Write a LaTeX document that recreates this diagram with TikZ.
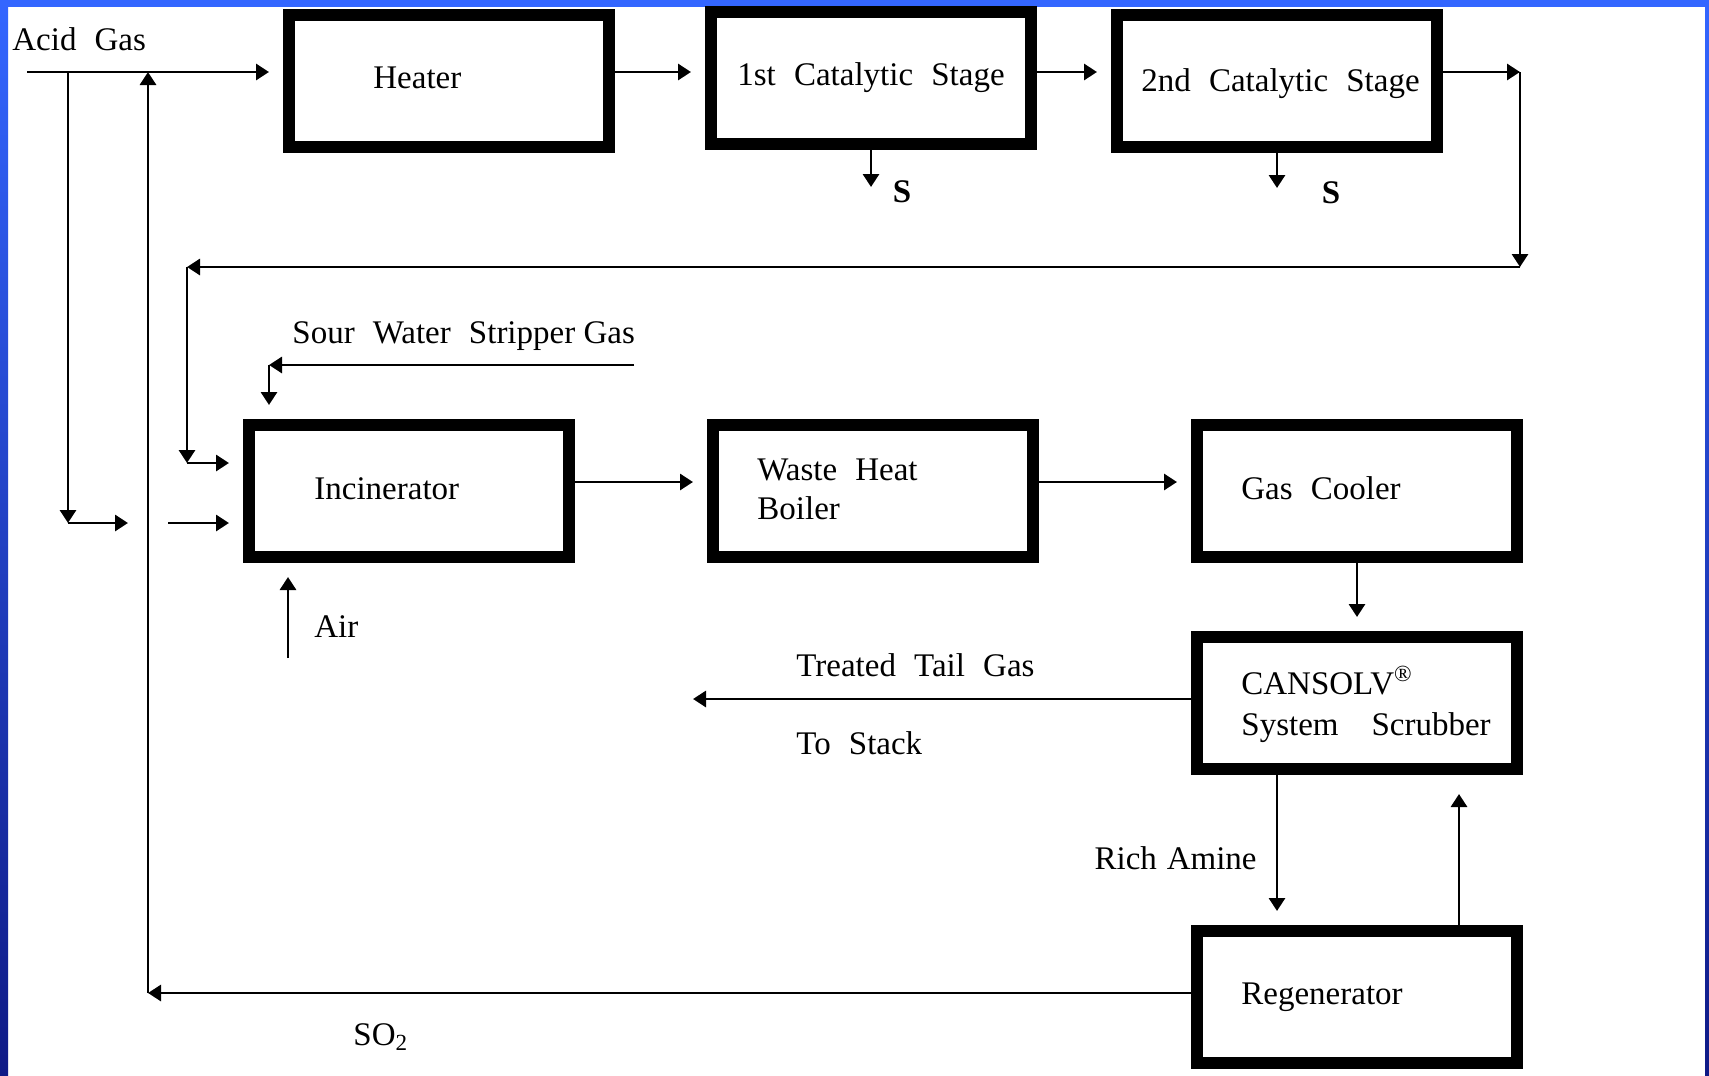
\documentclass[tikz,border=0pt]{standalone}
\usepackage{fontspec}
\setmainfont{Liberation Serif}[WordSpace=2.2]
\usetikzlibrary{arrows.meta}
\definecolor{slideblue}{HTML}{3366FF}
\definecolor{slidenavy}{HTML}{0F1A86}
\tikzset{
  unit/.style={draw, rectangle, line width=6pt, minimum width=160pt, minimum height=66pt},
  tag/.style={inner sep=0pt, anchor=base west},
  flow/.style={line width=1.45pt, -{Triangle[length=6.5pt,width=8pt]}},
  stopshort/.style={shorten >=7pt},
}
\begin{document}
\begin{tikzpicture}[x=0.5pt,y=-0.5pt,font=\fontsize{16.5}{20}\selectfont]
\useasboundingbox (0,0) rectangle (1709,1076);
\fill[white] (0,0) rectangle (1709,1076);
% slide frame
\shade[top color=slideblue, bottom color=slidenavy] (0,0) rectangle (8,1076);
\shade[top color=slideblue, bottom color=slidenavy] (1705,0) rectangle (1709,1076);
\fill[slideblue] (0,0) rectangle (1709,7);

% units
\node[unit] (heater) at (449,81) {};
\node[unit] (cat1) at (871,78) {};
\node[unit] (cat2) at (1277,81) {};
\node[unit] (incin) at (409,491) {};
\node[unit] (whb) at (873,491) {};
\node[unit] (cooler) at (1357,491) {};
\node[unit] (scrub) at (1357,703) {};
\node[unit] (regen) at (1357,997) {};

% texts
\node[tag] (acid) at (12,50) {Acid Gas};
\node[tag] (heater-t) at (373,88) {Heater};
\node[tag] (cat1-t) at (737,85) {1st Catalytic Stage};
\node[tag] (cat2-t) at (1141,91) {2nd Catalytic Stage};
\node[tag, anchor=base] (s1-t) at (902,202) {\bfseries S};
\node[tag, anchor=base] (s2-t) at (1331,203) {\bfseries S};
\node[tag] (sour) at (292,343) {Sour Water Stripper\hspace{.25em}Gas};
\node[tag] (incin-t) at (314,499) {Incinerator};
\node[tag] (air) at (314,637) {Air};
\node[tag] (whb-t1) at (757,480) {Waste Heat};
\node[tag] (whb-t2) at (757,519) {Boiler};
\node[tag] (cooler-t) at (1241,499) {Gas Cooler};
\node[tag] (scrub-t1) at (1241,694) {CANSOLV\textsuperscript{®}};
\node[tag] (scrub-t2) at (1241,735) {System\quad Scrubber};
\node[tag] (treated) at (796,676) {Treated Tail Gas};
\node[tag] (stack-t) at (796,754) {To Stack};
\node[tag, anchor=base east] (rich) at (1257,869) {Rich\hspace{.3em}Amine};
\node[tag] (regen-t) at (1241,1004) {Regenerator};
\node[tag] (so2) at (353,1045) {SO\textsubscript{2}};

% stream points
\coordinate (gin) at (27,72);
\coordinate (split) at (68,72);
\coordinate (bypass) at (68,523);
\coordinate (bypass-e) at (128,523);
\coordinate (feed2) at (168,523);
\coordinate (ret) at (148,993);
\coordinate (merge) at (148,72);
\coordinate (rc1) at (1520,72);
\coordinate (rc2) at (1520,267);
\coordinate (rc3) at (187,267);
\coordinate (rc4) at (187,463);
\coordinate (sw) at (634,365);
\coordinate (sw-c) at (269,365);
\coordinate (airin) at (288,658);
\coordinate (row2) at (0,482);
\coordinate (s1) at (871,187);
\coordinate (s2) at (1277,188);
\coordinate (stack) at (693,699);
\coordinate (rich-x) at (1277,0);
\coordinate (lean-x) at (1459,0);

% Claus train
\draw[flow, stopshort] (gin) -- (gin -| heater.west);
\draw[flow, stopshort] (heater.east |- gin) -- (cat1.west |- gin);
\draw[flow, stopshort] (cat1.east |- gin) -- (cat2.west |- gin);
\draw[flow] (cat1.south -| s1) -- (s1);
\draw[flow] (cat2.south -| s2) -- (s2);
\draw[flow] (cat2.east |- gin) -- (rc1);
\draw[flow] (rc1) -- (rc2);
\draw[flow] (rc2) -- (rc3);
\draw[flow] (rc3) -- (rc4);
\draw[flow, stopshort] (rc4) -- (rc4 -| incin.west);

% acid gas bypass
\draw[flow] (split) -- (bypass);
\draw[flow] (bypass) -- (bypass-e);
\draw[flow, stopshort] (feed2) -- (feed2 -| incin.west);

% incinerator feeds
\draw[flow] (sw) -- (sw-c);
\draw[flow, stopshort] (sw-c) -- (sw-c |- incin.north);
\draw[flow, stopshort] (airin) -- (airin |- incin.south);

% tail gas line
\draw[flow, stopshort] (incin.east |- row2) -- (whb.west |- row2);
\draw[flow, stopshort] (whb.east |- row2) -- (cooler.west |- row2);
\draw[flow, stopshort] (cooler.south) -- (scrub.north);
\draw[flow] (scrub.west |- stack) -- (stack);
\draw[flow, stopshort] (scrub.south -| rich-x) -- (regen.north -| rich-x);
\draw[flow, shorten >=9.5pt] (regen.north -| lean-x) -- (scrub.south -| lean-x);

% SO2 recycle
\draw[flow] (regen.west |- ret) -- (ret);
\draw[flow] (ret) -- (merge);
\end{tikzpicture}
\end{document}
